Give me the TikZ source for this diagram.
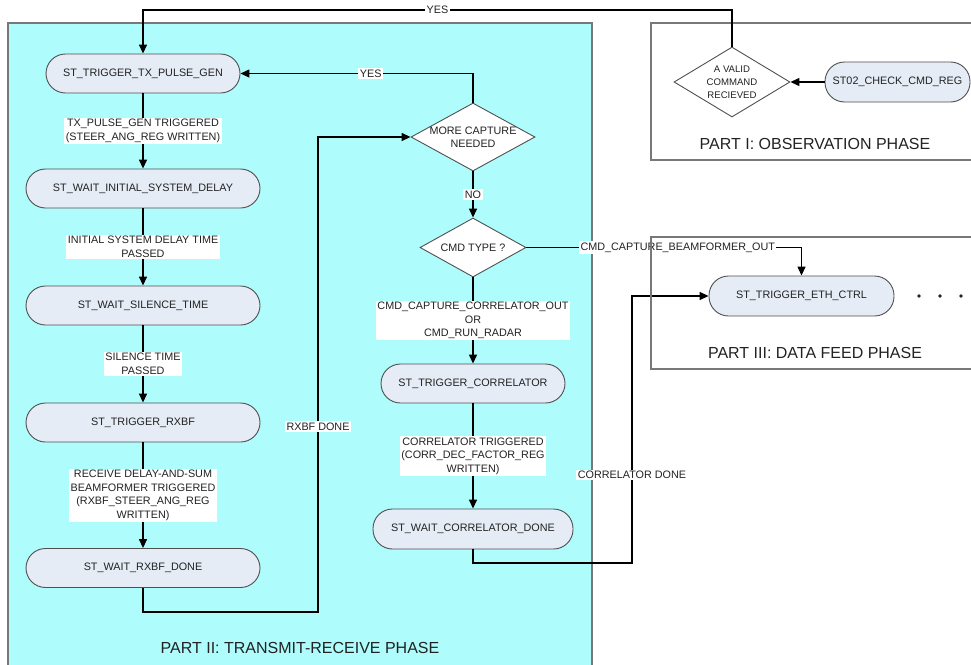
\documentclass[tikz,border=0pt]{standalone}
\usepackage{fontspec}
\setmainfont{Liberation Sans}
\usetikzlibrary{shapes.geometric,arrows.meta}

\definecolor{phasecyan}{RGB}{174,252,252}
\definecolor{statefill}{RGB}{230,236,246}
\definecolor{stateedge}{RGB}{80,80,80}
\definecolor{phaseedge}{RGB}{120,120,120}
\definecolor{inktext}{RGB}{34,34,34}

\tikzset{
  state/.style={draw=stateedge, fill=statefill, line width=0.9pt,
    rounded corners=19.5pt, minimum height=39pt, inner sep=0pt,
    text=inktext, font=\fontsize{10.8}{13}\selectfont},
  decision/.style={draw=stateedge, fill=white, line width=0.9pt,
    diamond, inner sep=0pt},
  dtext/.style={align=center, inner sep=0pt, text=inktext,
    font=\fontsize{10.8}{13}\selectfont},
  flow/.style={line width=1.4pt, -{Triangle[length=9pt,width=8pt]}},
  lbl/.style={fill=white, inner sep=1.5pt, align=center, text=inktext,
    font=\fontsize{10.8}{13.5}\selectfont},
  phase/.style={draw=phaseedge, line width=1.2pt},
  phasetitle/.style={inner sep=0pt, text=inktext,
    font=\fontsize{16}{19}\selectfont}
}

\begin{document}
\begin{tikzpicture}[x=1pt, y=-1pt]
\useasboundingbox (0,0) rectangle (971,664);
\clip (0,0) rectangle (971,664);

% phase areas
\fill[phasecyan] (8,23) rectangle (592,690);
\draw[phase] (8,23) rectangle (592,690);
\draw[phase] (651,23) rectangle (990,160);

\node[phasetitle] (p1title) at (815,143.5) {PART I: OBSERVATION PHASE};
\node[phasetitle] (p2title) at (300,648) {PART II: TRANSMIT-RECEIVE PHASE};
\node[phasetitle] (p3title) at (815,353) {PART III: DATA FEED PHASE};

% part I
\node[state, minimum width=145pt, minimum height=40pt] (chk) at (897.5,82) {ST02\_CHECK\_CMD\_REG};
\node[decision, minimum width=116pt, minimum height=70pt,
  label={[dtext, font=\fontsize{9.6}{13}\selectfont]center:A VALID\\COMMAND\\RECIEVED}] (valid) at (732,82) {};

% part II, left column
\node[state, minimum width=194pt] (tx)   at (143,73.5)  {ST\_TRIGGER\_TX\_PULSE\_GEN};
\node[state, minimum width=234pt] (init) at (143,188.5) {ST\_WAIT\_INITIAL\_SYSTEM\_DELAY};
\node[state, minimum width=234pt] (sil)  at (143,305.5) {ST\_WAIT\_SILENCE\_TIME};
\node[state, minimum width=234pt] (rx)   at (143,422.5) {ST\_TRIGGER\_RXBF};
\node[state, minimum width=234pt] (rxd)  at (143,568)   {ST\_WAIT\_RXBF\_DONE};

% part II, right column
\node[decision, minimum width=124pt, minimum height=68pt,
  label={[dtext]center:MORE CAPTURE\\NEEDED}] (more) at (473,137) {};
\node[decision, minimum width=106pt, minimum height=59pt,
  label={[dtext]center:CMD TYPE ?}] (cmd) at (473,247.5) {};
\node[state, minimum width=184pt] (trc) at (473,383.5) {ST\_TRIGGER\_CORRELATOR};
\node[state, minimum width=200pt, minimum height=40pt] (wcd) at (473,529) {ST\_WAIT\_CORRELATOR\_DONE};

% part III
\node[state, minimum width=185pt, minimum height=40pt] (eth) at (801.5,296) {ST\_TRIGGER\_ETH\_CTRL};
\foreach \x in {919,940,961} \fill[inktext] (\x,296) circle (1.8pt);

% route points
\coordinate (topR) at (732,10);
\coordinate (topL) at (143,10);
\coordinate (rxA) at (143,612);
\coordinate (rxB) at (318,612);
\coordinate (rxC) at (318,137);
\coordinate (cdA) at (473,563);
\coordinate (cdB) at (632,563);
\coordinate (cdC) at (632,296);

% connectors
\draw[flow] (chk.west) -- (valid.east);
\draw[flow] (valid.north) -- (topR) -- node[lbl]{YES} (topL) -- (tx.north);

\draw[flow] (tx.south) -- node[lbl]{TX\_PULSE\_GEN TRIGGERED\\(STEER\_ANG\_REG WRITTEN)} (init.north);
\draw[flow] (init.south) -- node[lbl]{INITIAL SYSTEM DELAY TIME\\PASSED} (sil.north);
\draw[flow] (sil.south) -- node[lbl]{SILENCE TIME\\PASSED} (rx.north);
\draw[flow] (rx.south) -- node[lbl]{RECEIVE DELAY-AND-SUM\\BEAMFORMER TRIGGERED\\(RXBF\_STEER\_ANG\_REG\\WRITTEN)} (rxd.north);
\draw[flow] (rxd.south) -- (rxA) -- (rxB) -- node[lbl, pos=0.39]{RXBF DONE} (rxC) -- (more.west);

\draw[flow] (more.north) |- node[lbl, pos=0.72]{YES} (tx.east);
\draw[flow] (more.south) -- node[lbl]{NO} (cmd.north);
\draw[flow] (cmd.south) -- node[lbl]{CMD\_CAPTURE\_CORRELATOR\_OUT\\OR\\CMD\_RUN\_RADAR} (trc.north);
\draw[flow] (trc.south) -- node[lbl]{CORRELATOR TRIGGERED\\(CORR\_DEC\_FACTOR\_REG\\WRITTEN)} (wcd.north);
\draw[flow] (cmd.east) -- node[lbl, pos=0.55]{CMD\_CAPTURE\_BEAMFORMER\_OUT} (cmd.east -| eth.north) -- (eth.north);
\draw[flow] (wcd.south) -- (cdA) -- (cdB) -- node[lbl, pos=0.33]{CORRELATOR DONE} (cdC) -- (eth.west);

% part III frame drawn over the passing label
\draw[phase] (651,237) rectangle (990,369);
\end{tikzpicture}
\end{document}
